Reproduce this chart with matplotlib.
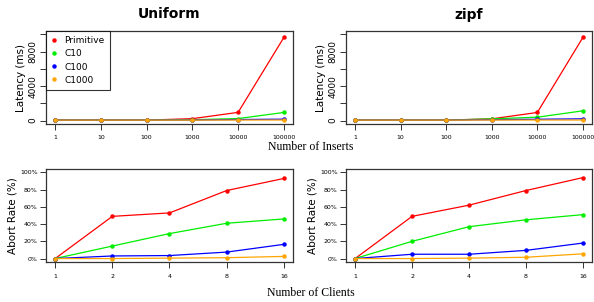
import matplotlib.pyplot as plt

# data
inserts = ['1', '10', '100', '1000', '10000', '100000']
clients = ['1', '2', '4', '8', '16']
series = ['Primitive', 'C10', 'C100', 'C1000']
colors = ['#ff0000', '#00ee00', '#0000ff', '#ffa500']

uni_latency = {
    'Primitive': [50, 50, 50, 220, 950, 9650],
    'C10': [50, 50, 50, 100, 230, 940],
    'C100': [50, 50, 50, 60, 120, 160],
    'C1000': [50, 50, 50, 50, 60, 60],
}
zipf_latency = {
    'Primitive': [50, 50, 50, 200, 940, 9650],
    'C10': [50, 50, 50, 200, 390, 1130],
    'C100': [50, 50, 50, 100, 150, 200],
    'C1000': [50, 50, 50, 60, 60, 60],
}
uni_abort = {
    'Primitive': [0, 49, 53, 79, 93],
    'C10': [0, 14.5, 29, 41, 46],
    'C100': [0, 3, 3.5, 7.5, 16.5],
    'C1000': [0, 0, 0.5, 1, 2.5],
}
zipf_abort = {
    'Primitive': [0, 49, 62, 79, 94],
    'C10': [0, 20, 37, 45, 51],
    'C100': [0, 5, 5, 9.5, 18],
    'C1000': [0, 0, 0.5, 1.5, 5.5],
}

W, H = 594, 302
fig = plt.figure(figsize=(W / 100, H / 100), dpi=100)


def box(left, top, right, bottom):
    return fig.add_axes([left / W, (H - bottom) / H, (right - left) / W, (bottom - top) / H])


def style(ax):
    for s in ax.spines.values():
        s.set_linewidth(0.9)
        s.set_color('#333333')
    ax.tick_params(direction='out', length=4, width=0.7, colors='#333333', labelsize=4.5, labelcolor='black')


def latency_panel(ax, data, title, legend=False):
    x = range(1, len(inserts) + 1)
    for name, c in zip(series, colors):
        ax.plot(x, data[name], color=c, lw=0.9, marker='o', ms=2.2, label=name)
    ax.set_xlim(0.8, 6.2)
    ax.set_ylim(-400, 10400)
    ax.set_xticks(list(x))
    ax.set_xticklabels(inserts)
    ax.set_yticks([0, 2000, 4000, 6000, 8000, 10000])
    ax.set_yticklabels(['0', '', '4000', '', '8000', ''], rotation=90, va='center', fontsize=6.5)
    style(ax)
    ax.tick_params(axis='x', pad=4)
    ax.tick_params(axis='y', labelsize=6.5, pad=2)
    ax.set_ylabel('Latency (ms)', fontsize=7.5, labelpad=2)
    ax.set_title(title, fontsize=10, fontweight='bold', pad=9)
    if legend:
        lg = ax.legend(loc='upper left', fontsize=6.5, frameon=True, fancybox=False,
                       handlelength=0.6, handletextpad=0.8, borderpad=0.6,
                       labelspacing=0.45, borderaxespad=0)
        for h in lg.legend_handles:
            h.set_linestyle('none')
        lg.get_frame().set_edgecolor('black')
        lg.get_frame().set_linewidth(0.8)


def abort_panel(ax, data):
    x = range(1, len(clients) + 1)
    for name, c in zip(series, colors):
        ax.plot(x, data[name], color=c, lw=0.9, marker='o', ms=2.2)
    ax.set_xlim(0.84, 5.16)
    ax.set_ylim(-4, 104)
    ax.set_xticks(list(x))
    ax.set_xticklabels(clients)
    ax.set_yticks([0, 20, 40, 60, 80, 100])
    ax.set_yticklabels(['0%', '20%', '40%', '60%', '80%', '100%'])
    style(ax)
    ax.tick_params(axis='x', pad=5)
    ax.tick_params(axis='y', pad=2)
    ax.set_ylabel('Abort Rate (%)', fontsize=7.5, labelpad=2)


ax1 = box(46, 31, 293, 124)
latency_panel(ax1, uni_latency, 'Uniform', legend=True)
ax2 = box(346, 31, 592, 124)
latency_panel(ax2, zipf_latency, 'zipf')
ax3 = box(46, 169, 293, 262)
abort_panel(ax3, uni_abort)
ax4 = box(346, 169, 592, 262)
abort_panel(ax4, zipf_abort)

fig.text(311 / W, 1 - 147 / H, 'Number of Inserts', ha='center', va='center',
         fontsize=8.5, family='Liberation Serif')
fig.text(311 / W, 1 - 293 / H, 'Number of Clients', ha='center', va='center',
         fontsize=8.5, family='Liberation Serif')

fig.savefig('out.png', dpi=100)
